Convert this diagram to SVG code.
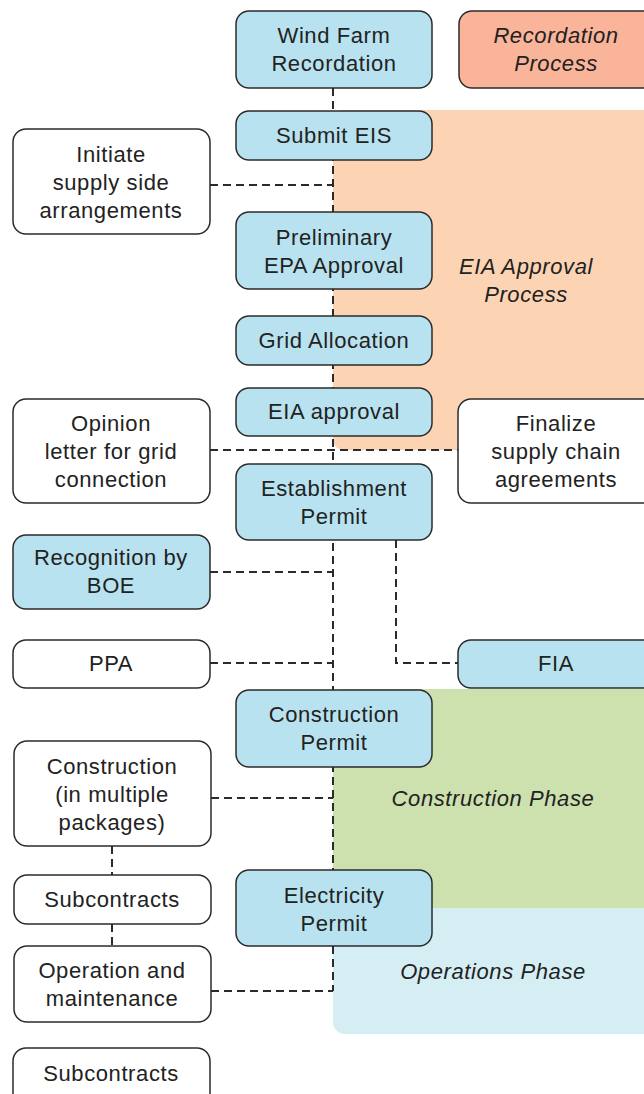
<svg xmlns="http://www.w3.org/2000/svg" width="644" height="1094" viewBox="0 0 644 1094">
  <style>
    .node rect { stroke: #2b2b2b; stroke-width: 1.5; }
    .step rect { fill: #b8e2ef; }
    .side rect { fill: #ffffff; }
    text { font-family: "Liberation Sans", Arial, sans-serif; font-size: 22px; letter-spacing: 0.6px; fill: #222; text-anchor: middle; }
    .phase { font-style: italic; }
    .link { fill: none; stroke: #2b2b2b; stroke-width: 2; stroke-dasharray: 8 5; }
  </style>

  <!-- phase backgrounds -->
  <g id="phases">
    <rect x="333" y="110" width="330" height="340" rx="10" fill="#fcd4b4"/>
    <rect x="333" y="900" width="330" height="134" rx="12" fill="#d5eef3"/>
    <rect x="333" y="689" width="330" height="219" rx="10" fill="#cde1af"/>
    <text class="phase" x="526" y="274">EIA Approval</text>
    <text class="phase" x="526" y="302">Process</text>
    <text class="phase" x="493" y="806">Construction Phase</text>
    <text class="phase" x="493" y="979">Operations Phase</text>
  </g>

  <!-- connectors -->
  <g id="connectors">
    <path class="link" d="M333 88 V991"/>
    <path class="link" d="M210 185 H333"/>
    <path class="link" d="M210 450 H458"/>
    <path class="link" d="M210 572 H333"/>
    <path class="link" d="M210 663 H333"/>
    <path class="link" d="M396 540 V663 H458"/>
    <path class="link" d="M211 798 H333"/>
    <path class="link" d="M211 991 H333"/>
    <path class="link" d="M112 846 V875"/>
    <path class="link" d="M112 924 V946"/>
  </g>

  <!-- main column -->
  <g id="wind-farm-recordation" class="node step">
    <rect x="236" y="11" width="196" height="77" rx="13"/>
    <text x="334" y="43">Wind Farm</text>
    <text x="334" y="71">Recordation</text>
  </g>
  <g id="recordation-process" class="node">
    <rect x="459" y="11" width="200" height="77" rx="13" fill="#f9b49a"/>
    <text class="phase" x="556" y="43">Recordation</text>
    <text class="phase" x="556" y="71">Process</text>
  </g>
  <g id="submit-eis" class="node step">
    <rect x="236" y="111" width="196" height="49" rx="13"/>
    <text x="334" y="143">Submit EIS</text>
  </g>
  <g id="preliminary-epa" class="node step">
    <rect x="236" y="212" width="196" height="77" rx="13"/>
    <text x="334" y="245">Preliminary</text>
    <text x="334" y="273">EPA Approval</text>
  </g>
  <g id="grid-allocation" class="node step">
    <rect x="236" y="316" width="196" height="49" rx="13"/>
    <text x="334" y="348">Grid Allocation</text>
  </g>
  <g id="eia-approval" class="node step">
    <rect x="236" y="388" width="196" height="48" rx="13"/>
    <text x="334" y="419">EIA approval</text>
  </g>
  <g id="establishment-permit" class="node step">
    <rect x="236" y="464" width="196" height="76" rx="13"/>
    <text x="334" y="496">Establishment</text>
    <text x="334" y="524">Permit</text>
  </g>
  <g id="construction-permit" class="node step">
    <rect x="236" y="690" width="196" height="77" rx="13"/>
    <text x="334" y="722">Construction</text>
    <text x="334" y="750">Permit</text>
  </g>
  <g id="electricity-permit" class="node step">
    <rect x="236" y="870" width="196" height="76" rx="13"/>
    <text x="334" y="903">Electricity</text>
    <text x="334" y="931">Permit</text>
  </g>

  <!-- side items -->
  <g id="initiate-supply" class="node side">
    <rect x="13" y="129" width="197" height="105" rx="13"/>
    <text x="111" y="162">Initiate</text>
    <text x="111" y="190">supply side</text>
    <text x="111" y="218">arrangements</text>
  </g>
  <g id="opinion-letter" class="node side">
    <rect x="13" y="399" width="197" height="104" rx="13"/>
    <text x="111" y="431">Opinion</text>
    <text x="111" y="459">letter for grid</text>
    <text x="111" y="487">connection</text>
  </g>
  <g id="finalize-supply" class="node side">
    <rect x="458" y="399" width="200" height="104" rx="13"/>
    <text x="556" y="431">Finalize</text>
    <text x="556" y="459">supply chain</text>
    <text x="556" y="487">agreements</text>
  </g>
  <g id="recognition-boe" class="node step">
    <rect x="13" y="535" width="197" height="74" rx="13"/>
    <text x="111" y="565">Recognition by</text>
    <text x="111" y="593">BOE</text>
  </g>
  <g id="ppa" class="node side">
    <rect x="13" y="640" width="197" height="48" rx="13"/>
    <text x="111" y="671">PPA</text>
  </g>
  <g id="fia" class="node step">
    <rect x="458" y="640" width="200" height="48" rx="13"/>
    <text x="556" y="671">FIA</text>
  </g>
  <g id="construction-packages" class="node side">
    <rect x="14" y="741" width="197" height="105" rx="13"/>
    <text x="112" y="774">Construction</text>
    <text x="112" y="802">(in multiple</text>
    <text x="112" y="830">packages)</text>
  </g>
  <g id="subcontracts-construction" class="node side">
    <rect x="14" y="875" width="197" height="49" rx="13"/>
    <text x="112" y="907">Subcontracts</text>
  </g>
  <g id="operation-maintenance" class="node side">
    <rect x="14" y="946" width="197" height="76" rx="13"/>
    <text x="112" y="978">Operation and</text>
    <text x="112" y="1006">maintenance</text>
  </g>
  <g id="subcontracts-operation" class="node side">
    <rect x="13" y="1048" width="197" height="60" rx="13"/>
    <text x="111" y="1081">Subcontracts</text>
  </g>
</svg>
